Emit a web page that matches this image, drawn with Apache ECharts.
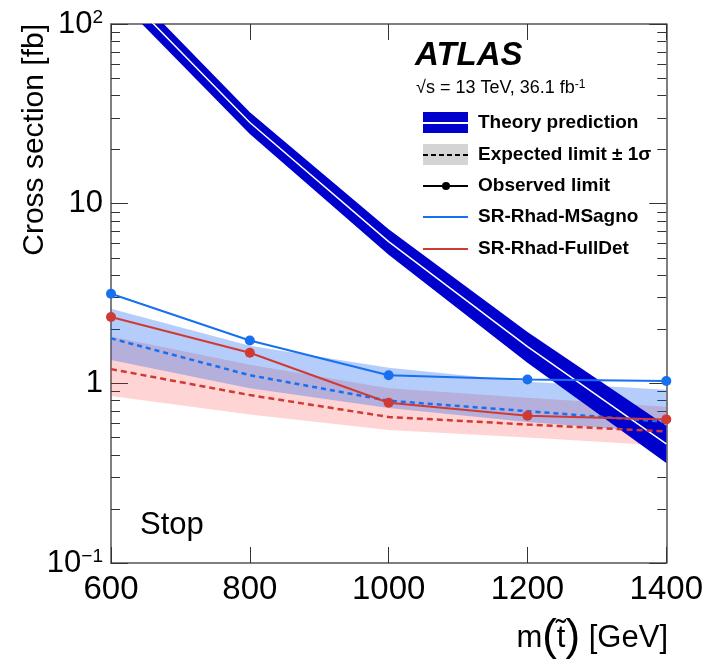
<!DOCTYPE html>
<html>
<head>
<meta charset="utf-8">
<script src="https://cdn.jsdelivr.net/npm/echarts@6/dist/echarts.min.js"></script>
<style>
  html, body { margin: 0; padding: 0; background: #fff; }
  #chart { width: 706px; height: 660px; }
</style>
</head>
<body>
<div id="chart"></div>
<script>
// 数据
const mass = [600, 800, 1000, 1200, 1400]

const theory = [175, 28.3, 6.15, 1.6, 0.46]
const theoryUp = [200, 32.3, 7.2, 1.93, 0.58]
const theoryDown = [150, 24.4, 5.2, 1.3, 0.36]

const msagnoObs = [3.15, 1.73, 1.11, 1.05, 1.03]
const msagnoExp = [1.78, 1.11, 0.8, 0.7, 0.61]
const msagnoUp = [2.6, 1.62, 1.22, 1.02, 0.92]
const msagnoDown = [1.35, 0.94, 0.73, 0.61, 0.53]

const fulldetObs = [2.34, 1.48, 0.78, 0.66, 0.63]
const fulldetExp = [1.2, 0.86, 0.65, 0.59, 0.54]
const fulldetUp = [1.82, 1.27, 0.94, 0.83, 0.74]
const fulldetDown = [0.85, 0.67, 0.55, 0.5, 0.45]

const xTicks = [600, 800, 1000, 1200, 1400]
const yTickValues = [0.1, 1, 10, 100]
const yTickLabels = ['{b|10}{e|−1}', '{b|1}', '{b|10}', '{b|10}{e|2}']
const yMinorTicks = []
for (const d of [0.1, 1, 10]) {
  for (let k = 2; k <= 9; k++) yMinorTicks.push(+(k * d).toFixed(3))
}

const FONT = 'Liberation Sans'
const BLUE = '#1670f0'
const RED = '#d03a35'
const THEORY = '#0000cc'

let myChart = echarts.init(document.getElementById('chart'))

// 误差带用 custom 多边形画
function band(lo, hi, color) {
  return {
    type: 'custom',
    clip: true,
    silent: true,
    data: mass.map((m, i) => [m, lo[i], hi[i]]),
    encode: { x: 0, y: [1, 2] },
    renderItem: (params, api) => {
      if (params.dataIndex !== 0) return null
      const top = mass.map((m, i) => api.coord([m, hi[i]]))
      const bottom = mass.map((m, i) => api.coord([m, lo[i]])).reverse()
      return {
        type: 'polygon',
        shape: { points: top.concat(bottom) },
        style: { fill: color },
      }
    },
  }
}

function line(values, color, opts) {
  return Object.assign(
    {
      type: 'line',
      data: mass.map((m, i) => [m, values[i]]),
      symbol: 'none',
      clip: true,
      silent: true,
      lineStyle: { color: color, width: 2 },
      itemStyle: { color: color },
    },
    opts
  )
}

const frameLine = { show: true, lineStyle: { color: '#555', width: 1.5 } }

function yAxis(position, ticks, len, labels) {
  return {
    type: 'log',
    logBase: 10,
    min: 0.1,
    max: 100,
    position: position,
    axisLine: labels || (position === 'right' && len > 10) ? frameLine : { show: false },
    splitLine: { show: false },
    axisTick: {
      show: true,
      inside: true,
      length: len,
      customValues: ticks,
      lineStyle: { color: '#333', width: 1 },
    },
    axisLabel: labels
      ? {
          show: true,
          customValues: yTickValues,
          margin: 8,
          formatter: (v) => {
            const i = yTickValues.findIndex((t) => Math.abs(t - v) / t < 1e-6)
            return i >= 0 ? yTickLabels[i] : ''
          },
          rich: {
            b: { fontSize: 31, fontFamily: FONT, color: '#000' },
            e: { fontSize: 19, fontFamily: FONT, color: '#000', verticalAlign: 'top' },
          },
        }
      : { show: false },
  }
}

function xAxis(position, labels) {
  return {
    type: 'value',
    min: 600,
    max: 1400,
    interval: 200,
    position: position,
    axisLine: frameLine,
    splitLine: { show: false },
    axisTick: { show: true, inside: true, length: 16, lineStyle: { color: '#333', width: 1 } },
    axisLabel: labels
      ? {
          show: true,
          margin: 10,
          fontSize: 33,
          fontFamily: FONT,
          color: '#000',
          customValues: xTicks,
          formatter: (v) => String(v),
        }
      : { show: false },
  }
}

const legendRows = [
  { y: 123, text: 'Theory prediction' },
  { y: 155, text: 'Expected limit ± 1σ' },
  { y: 186, text: 'Observed limit' },
  { y: 217, text: 'SR-Rhad-MSagno' },
  { y: 249, text: 'SR-Rhad-FullDet' },
]

const legendGraphics = [
  { type: 'rect', shape: { x: 423, y: 112, width: 45, height: 21 }, style: { fill: THEORY } },
  { type: 'line', shape: { x1: 423, y1: 123, x2: 468, y2: 123 }, style: { stroke: '#fff', lineWidth: 2 } },
  { type: 'rect', shape: { x: 423, y: 144, width: 45, height: 21 }, style: { fill: '#d4d4d4' } },
  { type: 'line', shape: { x1: 423, y1: 155, x2: 468, y2: 155 }, style: { stroke: '#000', lineWidth: 2, lineDash: [5, 3] } },
  { type: 'line', shape: { x1: 423, y1: 186, x2: 468, y2: 186 }, style: { stroke: '#000', lineWidth: 2 } },
  { type: 'circle', shape: { cx: 446, cy: 186, r: 4 }, style: { fill: '#000' } },
  { type: 'line', shape: { x1: 423, y1: 217, x2: 468, y2: 217 }, style: { stroke: BLUE, lineWidth: 2 } },
  { type: 'line', shape: { x1: 423, y1: 249, x2: 468, y2: 249 }, style: { stroke: RED, lineWidth: 2 } },
].concat(
  legendRows.map((r) => ({
    type: 'text',
    x: 478,
    y: r.y,
    style: {
      text: r.text,
      font: `bold 19px "${FONT}"`,
      fill: '#000',
      verticalAlign: 'middle',
      align: 'left',
    },
  }))
)

let option = {
  animation: false,
  backgroundColor: '#fff',
  grid: { left: 111, right: 38, top: 24, bottom: 97, containLabel: false },
  xAxis: [xAxis('bottom', true), xAxis('top', false)],
  yAxis: [
    yAxis('left', yTickValues, 17, true),
    yAxis('left', yMinorTicks, 9, false),
    yAxis('right', yTickValues, 17, false),
    yAxis('right', yMinorTicks, 9, false),
  ],
  series: [
    band(fulldetDown, fulldetUp, 'rgba(255,40,40,0.2)'),
    band(msagnoDown, msagnoUp, 'rgba(10,90,240,0.3)'),
    band(theoryDown, theoryUp, THEORY),
    line(theory, '#fff', { lineStyle: { color: '#fff', width: 1.5 } }),
    line(msagnoExp, BLUE, { lineStyle: { color: BLUE, width: 2.5, type: [5, 4] } }),
    line(fulldetExp, RED, { lineStyle: { color: RED, width: 2.5, type: [6, 4] } }),
    line(msagnoObs, BLUE, { symbol: 'circle', symbolSize: 10 }),
    line(fulldetObs, RED, { symbol: 'circle', symbolSize: 10 }),
  ],
  graphic: [
    {
      type: 'text',
      x: 35,
      y: 24,
      rotation: Math.PI / 2,
      style: {
        text: 'Cross section [fb]',
        font: `30px "${FONT}"`,
        fill: '#000',
        align: 'right',
        verticalAlign: 'middle',
      },
    },
    {
      type: 'text',
      x: 668,
      y: 638,
      style: {
        text: '{t|m}{p|(}{t|t̃}{p|)}{t| [GeV]}',
        align: 'right',
        verticalAlign: 'middle',
        rich: {
          t: { fontSize: 31, fontFamily: FONT, fill: '#000' },
          p: { fontSize: 44, fontFamily: FONT, fill: '#000' },
        },
      },
    },
    {
      type: 'text',
      x: 415,
      y: 56,
      style: {
        text: 'ATLAS',
        font: `italic bold 33px "${FONT}"`,
        fill: '#000',
        verticalAlign: 'middle',
      },
    },
    {
      type: 'text',
      x: 416,
      y: 88,
      style: {
        text: '{a|√s = 13 TeV, 36.1 fb}{s|-1}',
        verticalAlign: 'middle',
        rich: {
          a: { fontSize: 18, fontFamily: FONT, fill: '#000' },
          s: { fontSize: 12, fontFamily: FONT, fill: '#000', verticalAlign: 'top' },
        },
      },
    },
    {
      type: 'text',
      x: 140,
      y: 525,
      style: { text: 'Stop', font: `31px "${FONT}"`, fill: '#000', verticalAlign: 'middle' },
    },
  ].concat(legendGraphics),
}

myChart.setOption(option)
</script>
</body>
</html>
